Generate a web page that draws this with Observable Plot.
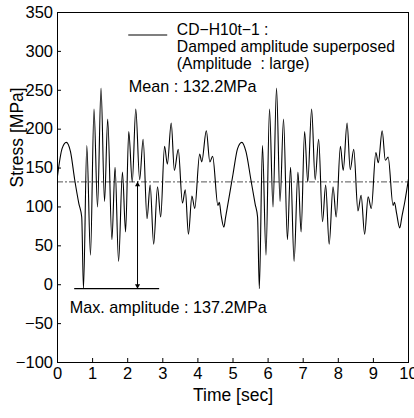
<!DOCTYPE html>
<html><head><meta charset="utf-8">
<script src="https://cdn.jsdelivr.net/npm/d3@7"></script>
<script src="https://cdn.jsdelivr.net/npm/@observablehq/plot@0.6"></script>
<style>
html,body{margin:0;padding:0;background:#fff;}
#chart{width:414px;height:418px;overflow:hidden;}
</style></head><body><div id="chart"></div>
<script>
// Time [sec] and stress [MPa] (first and second 5 s)
const timeA = [0,0.13,0.25,0.37,0.49,0.61,0.69,0.74,0.835,0.94,1.04,1.14,1.24,1.34,1.43,1.55,1.64,1.74,1.85,1.94,2.03,2.13,2.23,2.34,2.44,2.55,2.64,2.74,2.85,2.94,3.05,3.13,3.24,3.33,3.44,3.56,3.64,3.73,3.83,3.91,4.05,4.11,4.24,4.34,4.42,4.57,4.61,4.66,4.74,4.79,4.89];
const stressA = [140,175,183,171,135,104,87,-5,179,38,226,100,253,107,213,58,151,30,145,68,197,132,226,135,187,85,128,52,126,87,178,155,208,147,174,105,122,65,114,98,168,158,198,158,165,102,106,90,74,87,113];
const timeB = [5.00,5.13,5.25,5.37,5.51,5.63,5.70,5.75,5.84,5.94,6.04,6.14,6.24,6.34,6.44,6.55,6.64,6.74,6.85,6.94,7.04,7.13,7.24,7.34,7.44,7.55,7.64,7.74,7.85,7.94,8.06,8.14,8.25,8.34,8.44,8.56,8.65,8.75,8.85,8.94,9.07,9.14,9.25,9.34,9.42,9.56,9.60,9.66,9.75,9.81,9.90,10.0];
const stressB = [142,175,183,171,135,104,87,-5,179,38,226,100,253,107,213,58,151,30,145,68,197,132,226,135,187,81,128,52,126,87,178,147,208,148,174,95,115,65,113,98,170,157,198,160,164,102,106,92,73,87,108,136];

const xTicks = [0,1,2,3,4,5,6,7,8,9,10];
const yTicks = [-100,-50,0,50,100,150,200,250,300,350];
const meanStress = 132.2;
const maxAmplitude = 137.2;
const legendLines = ["CD\u2212H10t\u22121 :", "Damped amplitude superposed", "(Amplitude  : large)"];
const xLabel = "Time [sec]";
const yLabel = "Stress [MPa]";

// annotation anchors (data units)
const legendSample = {x1: 2.03, x2: 3.14, y: 321};
const legendText = {x: 3.40, y: 336.5};
const meanText = {x: 2.03, y: 254.5};
const ampText = {x: 0.35, y: -29.8};
const ampBar = {x1: 0.49, x2: 2.91, xArrow: 2.28};

const series = timeA.map((t, i) => ({t, s: stressA[i]}))
  .concat(timeB.map((t, i) => ({t, s: stressB[i]})));
const minStress = +(meanStress - maxAmplitude).toFixed(1);

const font = "'Liberation Sans', Arial, Helvetica, sans-serif";

const chart = Plot.plot({
  width: 414, height: 418,
  marginLeft: 57, marginRight: 6, marginTop: 12, marginBottom: 56,
  style: {fontFamily: font, fontSize: "16.5px", color: "black", background: "white", overflow: "visible"},
  x: {domain: [xTicks[0], xTicks[xTicks.length - 1]]},
  y: {domain: [yTicks[0], yTicks[yTicks.length - 1]]},
  marks: [
    Plot.axisX(xTicks, {tickSize: 0, tickPadding: 5, label: null, fontSize: 16.5}),
    Plot.axisY(yTicks, {tickSize: 0, tickPadding: 4.5, label: null, fontSize: 16.5, tickFormat: d => d < 0 ? "\u2212" + Math.abs(d) : String(d)}),
    Plot.ruleX(xTicks, {y1: yTicks[0], y2: yTicks[0], insetTop: -4, stroke: "black"}),
    Plot.ruleY(yTicks, {x1: xTicks[0], x2: xTicks[0], insetRight: -4, stroke: "black"}),
    Plot.ruleY([meanStress], {stroke: "#555", strokeWidth: 1, strokeDasharray: "6,2,2,2"}),
    Plot.line(series, {x: "t", y: "s", curve: "monotone-x", stroke: "black", strokeWidth: 1.1}),
    // max amplitude bar and arrow
    Plot.ruleY([minStress], {x1: ampBar.x1, x2: ampBar.x2, stroke: "black", strokeWidth: 1.1}),
    Plot.ruleX([ampBar.xArrow], {y1: minStress, y2: meanStress, stroke: "black", strokeWidth: 1}),
    Plot.dot([meanStress], {x: ampBar.xArrow, y: d => d, symbol: "triangle", r: 1.9, fill: "black", stroke: "none", dy: 2.9}),
    Plot.dot([minStress], {x: ampBar.xArrow, y: d => d, symbol: "triangle", r: 1.9, fill: "black", stroke: "none", rotate: 180, dy: -2.9}),
    // legend
    Plot.ruleY([legendSample.y], {x1: legendSample.x1, x2: legendSample.x2, stroke: "black", strokeWidth: 1.1}),
    Plot.text([legendLines.join("\n")], {x: legendText.x, y: legendText.y, textAnchor: "start", lineAnchor: "top", lineHeight: 1.08, fontSize: 15.7, fill: "black"}),
    Plot.text([`Mean : ${meanStress}MPa`], {x: meanText.x, y: meanText.y, textAnchor: "start", fontSize: 16.2, fill: "black"}),
    Plot.text([`Max. amplitude : ${maxAmplitude}MPa`], {x: ampText.x, y: ampText.y, textAnchor: "start", fontSize: 16.2, fill: "black"}),
    // axis titles
    Plot.text([xLabel], {frameAnchor: "bottom", dy: 38.5, fontSize: 17.5, fill: "black"}),
    Plot.text([yLabel], {frameAnchor: "left", dx: -40, rotate: -90, fontSize: 17.5, fill: "black"}),
    Plot.frame({stroke: "black", strokeWidth: 1})
  ]
});
document.getElementById("chart").appendChild(chart);
</script>
</body></html>
